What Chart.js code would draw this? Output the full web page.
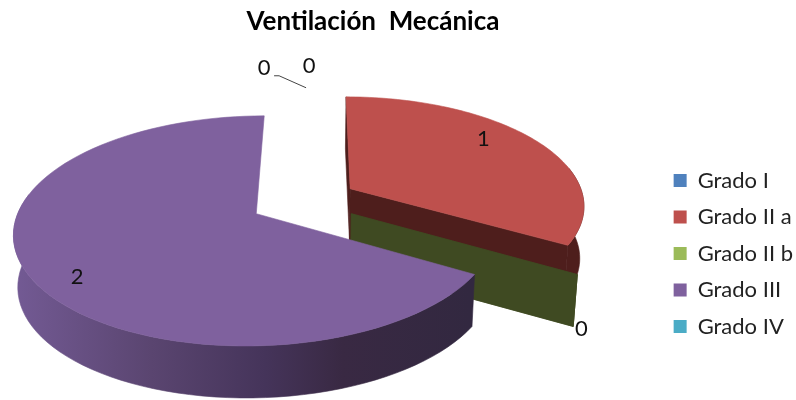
<!DOCTYPE html>
<html>
<head>
<meta charset="utf-8">
<script src="https://cdn.jsdelivr.net/npm/chart.js@4"></script>
<style>
html, body { margin: 0; padding: 0; background: #fff; }
canvas { display: block; }
</style>
</head>
<body>
<canvas id="pie" width="796" height="400"></canvas>
<script>
const titleText = 'Ventilación  Mecánica';
const categories = ['Grado I', 'Grado II a', 'Grado II b', 'Grado III', 'Grado IV'];
const values = [0, 1, 0, 2, 0];
const sliceColors = ['#4F81BD', '#BE504D', '#9BBB59', '#7F619E', '#4BACC6'];
const wallColors = [null, '#4E1E1C', '#3F4A22', 'gradient', null];

// 3D look: the arcs are projected on a tilted plane
const view = { cx: 304, cy: 201, a: 234.5, b: -2, e: 108.7, g: 0, h: -0.147, explode: 0.23, wall: 52, shrink: 0.985 };
const drawOrder = [1, 2, 3];
const showCutFaces = [false, true, true, false, false];
const titleShift = 57;
// where each number sits: along the slice, out from its tip, then a nudge
const labelPlaces = [
    { frac: 0, radial: 1, dx: -42, dy: -20 },
    { frac: 0.42, radial: 0.82, dx: 0, dy: 1 },
    { frac: 0, radial: 1, dx: 4, dy: 54 },
    { frac: 0.468, radial: 0.85, dx: 0, dy: 0 },
    { frac: 1, radial: 1, dx: 3, dy: -22 }
];

function project(u, v) {
    const w = 1 + view.g * u + view.h * v;
    return { x: view.cx + (view.a * u + view.b * v) / w, y: view.cy + view.e * v / w };
}

function lower(p) {
    return { x: view.cx + (p.x - view.cx) * view.shrink, y: p.y + view.wall };
}

function fillShape(ctx, pts, color) {
    ctx.beginPath();
    pts.forEach((p, i) => i ? ctx.lineTo(p.x, p.y) : ctx.moveTo(p.x, p.y));
    ctx.closePath();
    ctx.fillStyle = color;
    ctx.strokeStyle = color;
    ctx.lineWidth = 0.6;
    ctx.fill();
    ctx.stroke();
}

function tipOf(arc) {
    const mid = (arc.startAngle + arc.endAngle) / 2;
    return { u: view.explode * Math.cos(mid), v: view.explode * Math.sin(mid) };
}

const pie3d = {
    id: 'pie3d',
    afterLayout(chart) {
        // title sits over the pie side, not the middle of the page
        chart.titleBlock.right -= titleShift;
    },
    beforeDatasetsDraw(chart) {
        const ctx = chart.ctx;
        const arcs = chart.getDatasetMeta(0).data;
        ctx.save();
        drawOrder.forEach(i => {
            const arc = arcs[i];
            const tip = tipOf(arc);
            const apex = project(tip.u, tip.v);
            const rim = [];
            const frontRim = [];
            const steps = 90;
            for (let s = 0; s <= steps; s++) {
                const t = arc.startAngle + (arc.endAngle - arc.startAngle) * s / steps;
                const p = project(tip.u + Math.cos(t), tip.v + Math.sin(t));
                rim.push(p);
                // the back of the rim is hidden by the top face
                if (Math.sin(t) > -0.2) frontRim.push(p);
            }
            let wall = wallColors[i];
            if (wall === 'gradient') {
                wall = ctx.createLinearGradient(15, 0, 470, 0);
                wall.addColorStop(0, '#735A94');
                wall.addColorStop(0.3, '#5A4570');
                wall.addColorStop(0.55, '#45345A');
                wall.addColorStop(0.72, '#392943');
                wall.addColorStop(1, '#322840');
            }
            const first = rim[0];
            const last = rim[rim.length - 1];
            if (showCutFaces[i]) {
                fillShape(ctx, [apex, first, lower(first), lower(apex)], wall);
                fillShape(ctx, [apex, last, lower(last), lower(apex)], wall);
            }
            fillShape(ctx, frontRim.concat(frontRim.map(lower).reverse()), wall);
            if (values[i] > 0) fillShape(ctx, [apex].concat(rim), sliceColors[i]);
        });

        // leader line of the first zero
        const leadTip = tipOf(arcs[0]);
        const leadStart = project(leadTip.u, leadTip.v - 1);
        ctx.beginPath();
        ctx.moveTo(leadStart.x, leadStart.y);
        ctx.lineTo(leadStart.x - 27, leadStart.y - 12);
        ctx.lineTo(leadStart.x - 32, leadStart.y - 12);
        ctx.strokeStyle = '#444';
        ctx.lineWidth = 1;
        ctx.stroke();

        ctx.font = '22px Lato';
        ctx.fillStyle = '#111';
        ctx.textAlign = 'center';
        ctx.textBaseline = 'middle';
        arcs.forEach((arc, i) => {
            const place = labelPlaces[i];
            const tip = tipOf(arc);
            const t = arc.startAngle + (arc.endAngle - arc.startAngle) * place.frac;
            const p = project(tip.u + place.radial * Math.cos(t), tip.v + place.radial * Math.sin(t));
            ctx.fillText(String(values[i]), p.x + place.dx, p.y + place.dy);
        });
        ctx.restore();
        return false;
    }
};

new Chart(document.getElementById('pie'), {
    type: 'pie',
    data: {
        labels: categories,
        datasets: [{
            data: values,
            backgroundColor: sliceColors,
            borderWidth: 0,
            offset: 28
        }]
    },
    plugins: [pie3d],
    options: {
        responsive: false,
        animation: false,
        layout: { padding: { right: -7 } },
        plugins: {
            title: {
                display: true,
                text: titleText,
                color: '#000',
                font: { family: 'Lato', size: 26, weight: 'bold' },
                padding: { top: 6, bottom: 70 }
            },
            legend: {
                position: 'right',
                fullSize: false,
                labels: {
                    color: '#222',
                    font: { family: 'Lato', size: 22 },
                    boxWidth: 13,
                    boxHeight: 13,
                    padding: 14.5
                }
            }
        }
    }
});
</script>
</body>
</html>
